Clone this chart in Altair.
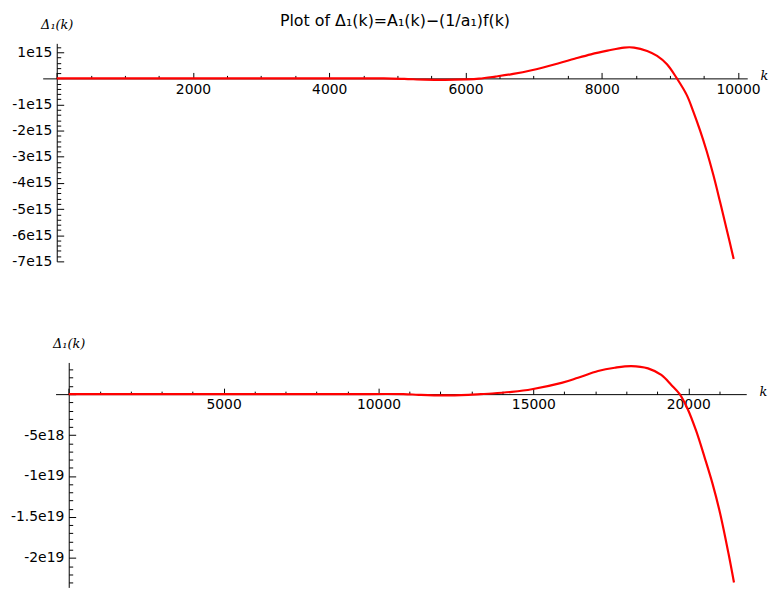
import altair as alt
import pandas as pd

# ---- Data ----
# Top panel: k and Delta_1(k) in units of 1e15
k_top = [0, 1000, 2000, 3000, 4000, 4800, 5100, 5400, 5700, 6000, 6200, 6440, 6700, 6970,
         7357, 7600, 7841, 8084, 8327, 8473, 8666, 8812, 8957, 9102, 9248, 9345, 9441, 9539,
         9636, 9733, 9830, 9936]
d_top_e15 = [0, 0, 0, 0, 0, 0, -0.02, -0.05, -0.06, -0.04, -0.01, 0.07, 0.17, 0.31,
             0.57, 0.75, 0.92, 1.06, 1.18, 1.18, 1.05, 0.86, 0.54, 0.0, -0.64, -1.28, -1.98, -2.78,
             -3.68, -4.69, -5.74, -6.91]

# Bottom panel: k and Delta_1(k) in units of 1e18
k_bot = [0, 3000, 6000, 9000, 10800, 11300, 12100, 12900, 13300, 13670, 14300, 14950, 15910,
         16440, 17087, 17626, 18161, 18700, 19129, 19452, 19723, 19990, 20258, 20529, 20780,
         21030, 21300, 21475]
d_bot_e18 = [0, 0, 0, 0, 0, -0.08, -0.15, -0.08, 0, 0.08, 0.28, 0.6, 1.37,
             2.0, 2.82, 3.22, 3.43, 3.15, 2.34, 1.13, 0, -1.90, -4.53, -7.75, -10.9,
             -14.6, -19.5, -23.0]

# Tick labels / tick positions
top_x_labels = [2000, 4000, 6000, 8000, 10000]
top_x_ticks = [i * 500 for i in range(0, 21)]
top_y_labels = [1e15, -1e15, -2e15, -3e15, -4e15, -5e15, -6e15, -7e15]
top_y_ticks = [i * 2e14 for i in range(-35, 7)]

bot_x_labels = [5000, 10000, 15000, 20000]
bot_x_ticks = [i * 1000 for i in range(0, 22)]
bot_y_labels = [-5e18, -1e19, -1.5e19, -2e19]
bot_y_ticks = [i * 1e18 for i in range(-23, 4)]

TITLE = "Plot of Δ₁(k)=A₁(k)−(1/a₁)f(k)"
YTITLE = "Δ₁(k)"
XTITLE = "k"

LABEL_FONT = "DejaVu Sans"
MATH_FONT = "DejaVu Serif"
SCI_EXPR = "(datum.value < 0 ? '-' : '') + replace(format(abs(datum.value), '~e'), 'e+', 'e')"


def panel(k, v, xdom, xrange, width, ydom, height,
          x_labels, x_ticks, x_major, y_labels, y_ticks, y_major):
    df = pd.DataFrame({"k": k, "d": v})
    # pixel position of k = 0 and of d = 0 inside the plot area
    x0 = xrange[0] + (xrange[1] - xrange[0]) * (0 - xdom[0]) / (xdom[1] - xdom[0])
    y0 = height * (ydom[1] - 0) / (ydom[1] - ydom[0])

    xs = alt.Scale(domain=xdom, range=xrange, nice=False, zero=False)
    ys = alt.Scale(domain=ydom, nice=False, zero=False)

    ax_bottom = alt.Axis(
        orient="bottom", offset=-(height - y0), values=x_labels, format="d",
        ticks=False, grid=False, domain=True, domainColor="black", domainWidth=1,
        labelFont=LABEL_FONT, labelFontSize=14, labelColor="black", labelPadding=4,
        labelFlush=False, labelOverlap=False,
        title=XTITLE, titleFont=MATH_FONT, titleFontStyle="italic", titleFontWeight="normal",
        titleFontSize=13, titleColor="black", titleAngle=0, titleAlign="left",
        titleBaseline="middle", titleX=xrange[1] + 13, titleY=-3,
    )
    ax_left = alt.Axis(
        orient="left", offset=-x0, values=y_labels, labelExpr=SCI_EXPR,
        ticks=False, grid=False, domain=True, domainColor="black", domainWidth=1,
        labelFont=LABEL_FONT, labelFontSize=14, labelColor="black", labelPadding=5,
        labelFlush=False, labelOverlap=False,
        title=YTITLE, titleFont=MATH_FONT, titleFontStyle="italic", titleFontWeight="normal",
        titleFontSize=13, titleColor="black", titleAngle=0, titleAlign="center",
        titleBaseline="middle", titleX=0, titleY=-19,
    )
    ax_top = alt.Axis(
        orient="top", offset=-y0, values=x_ticks, labels=False, domain=False, grid=False,
        ticks=True, tickColor="black", tickWidth=1,
        tickSize={"condition": {"test": f"datum.value % {x_major:g} === 0", "value": 6}, "value": 3},
        title=None,
    )
    ax_right = alt.Axis(
        orient="right", offset=-(width - x0), values=y_ticks, labels=False, domain=False,
        grid=False, ticks=True, tickColor="black", tickWidth=1,
        tickSize={"condition": {"test": f"datum.value % {y_major:g} === 0", "value": 7}, "value": 4},
        title=None,
    )

    line = alt.Chart(df).mark_line(color="#ff0000", strokeWidth=2.2, interpolate="catmull-rom").encode(
        x=alt.X("k:Q", scale=xs, axis=ax_bottom),
        y=alt.Y("d:Q", scale=ys, axis=ax_left),
    )
    ghost = alt.Chart(df).mark_line(opacity=0).encode(
        x=alt.X("k:Q", scale=xs, axis=ax_top),
        y=alt.Y("d:Q", scale=ys, axis=ax_right),
    )
    return alt.layer(line, ghost).resolve_axis(x="independent", y="independent").properties(
        width=width, height=height
    )


top = panel(k_top, [v * 1e15 for v in d_top_e15],
            xdom=[-206.5, 10135], xrange=[0, 711], width=711,
            ydom=[-7e15, 1.34e15], height=220,
            x_labels=top_x_labels, x_ticks=top_x_ticks, x_major=2000,
            y_labels=top_y_labels, y_ticks=top_y_ticks, y_major=1e15)
top = top.properties(title=alt.Title(TITLE, font=LABEL_FONT, fontSize=16, fontWeight="normal",
                                     color="black", anchor="middle", offset=-10))

bottom = panel(k_bot, [v * 1e18 for v in d_bot_e18],
               xdom=[-425, 21871], xrange=[13, 710], width=710,
               ydom=[-23.6e18, 3.87e18], height=227,
               x_labels=bot_x_labels, x_ticks=bot_x_ticks, x_major=5000,
               y_labels=bot_y_labels, y_ticks=bot_y_ticks, y_major=5e18)

chart = alt.vconcat(top, bottom, spacing=70).properties(
    padding={"left": 2, "top": 2, "right": 5, "bottom": 5},
    background="white",
).configure_view(stroke=None)

chart.save("out.html", embed_options={"renderer": "svg", "actions": False})
